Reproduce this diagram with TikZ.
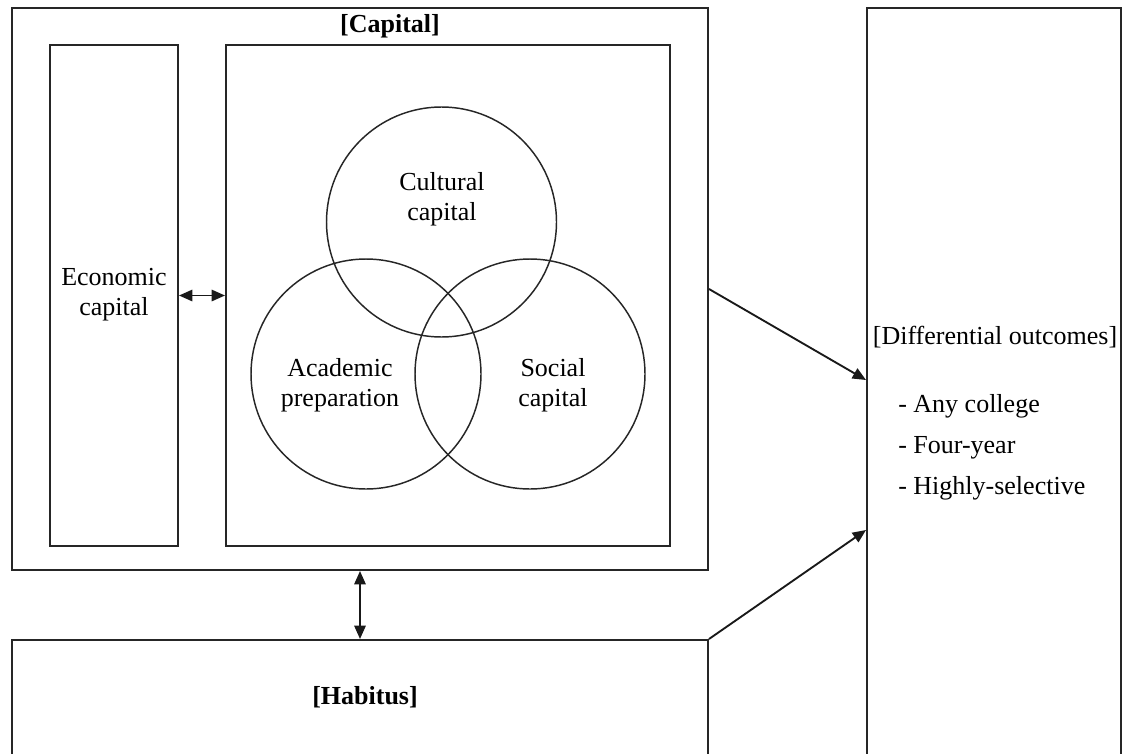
\documentclass[tikz,border=0pt]{standalone}
\usepackage{fontspec}
\setmainfont{Liberation Serif}
\usetikzlibrary{arrows.meta,calc}
\tikzset{
  box/.style={draw=black!85, line width=1.5pt, rectangle, inner sep=0pt},
  ring/.style={draw=black!85, line width=1.1pt, circle, inner sep=0pt, minimum size=172.5pt},
  lbl/.style={align=center, inner sep=0pt, font=\fontsize{19.5}{22.5}\selectfont},
  blbl/.style={lbl, font=\fontsize{19.5}{22.5}\selectfont\bfseries},
  conn/.style={line width=1.4pt, draw=black!90, -{Triangle[length=10pt,width=8.5pt]}},
  dconn/.style={line width=1.4pt, draw=black!90, {Triangle[length=10pt,width=8.5pt]}-{Triangle[length=10pt,width=8.5pt]}}
}
\begin{document}
\begin{tikzpicture}[x=0.75pt,y=-0.75pt]
\useasboundingbox (0,0) rectangle (1126,753);
\fill[white] (0,0) rectangle (1126,753);
\clip (0,0) rectangle (1126,753);
% boxes
\node[box, minimum width=522pt, minimum height=421.5pt] (cap) at (360,289) {};
\node[box, minimum width=96pt, minimum height=375.75pt] (econ) at (114,295.5) {};
\node[box, minimum width=333pt, minimum height=375.75pt] (inner) at (448,295.5) {};
\node[box, minimum width=190.5pt, minimum height=594pt] (out) at (994,404) {};
\node[box, minimum width=522pt, minimum height=120pt] (hab) at (360,720) {};
% circles
\node[ring] (cult) at (441.5,222) {};
\node[ring] (acad) at (366,374) {};
\node[ring] (soc) at (530,374) {};
% labels
\node[blbl] (capl) at (390,26) {[Capital]};
\node[lbl] (econl) at (114,295) {Economic\\capital};
\node[lbl] (cultl) at (442,199) {Cultural\\capital};
\node[lbl] (acadl) at (340,385) {Academic\\preparation};
\node[lbl] (socl) at (553,385) {Social\\capital};
\node[lbl] (outl) at (995,337) {[Differential outcomes]};
\node[lbl, anchor=west] (o1) at (898,406) {- Any college};
\node[lbl, anchor=west] (o2) at (898,448) {- Four-year};
\node[lbl, anchor=west] (o3) at (898,488) {- Highly-selective};
\node[blbl] (habl) at (365,697) {[Habitus]};
% connectors
\draw[dconn] (econ) -- (inner);
\draw[dconn] (cap) -- (hab);
\draw[conn] (cap.east) -- ([yshift=18pt]out.west);
\draw[conn] (hab.north east) -- ([yshift=-94.5pt]out.west);
\end{tikzpicture}
\end{document}
